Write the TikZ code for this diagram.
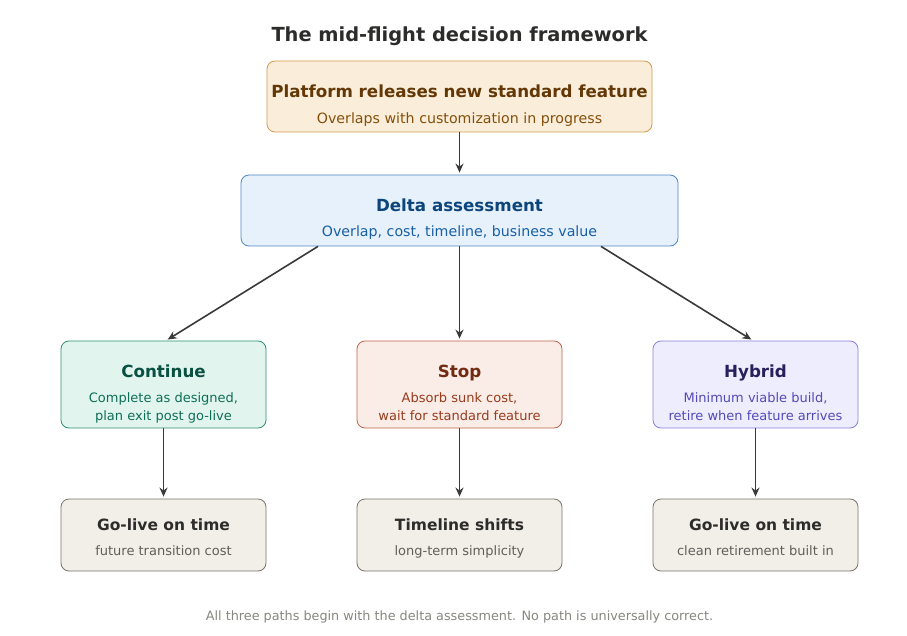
\documentclass[tikz,border=0pt]{standalone}
\usepackage{fontspec}
\setmainfont{DejaVu Sans}
\usetikzlibrary{arrows.meta}
\definecolor{inkdark}{HTML}{2C2C2A}
\definecolor{arrowgrey}{HTML}{3A3A38}
\definecolor{trigfill}{HTML}{FAEEDA}
\definecolor{trigline}{HTML}{D39A4E}
\definecolor{trighead}{HTML}{633806}
\definecolor{trigsub}{HTML}{854F0B}
\definecolor{deltafill}{HTML}{E6F1FB}
\definecolor{deltaline}{HTML}{4F86C6}
\definecolor{deltahead}{HTML}{0C447C}
\definecolor{deltasub}{HTML}{185FA5}
\definecolor{contfill}{HTML}{E1F5EE}
\definecolor{contline}{HTML}{2E9270}
\definecolor{conthead}{HTML}{085041}
\definecolor{contsub}{HTML}{0F6E56}
\definecolor{stopfill}{HTML}{FAECE7}
\definecolor{stopline}{HTML}{C4654A}
\definecolor{stophead}{HTML}{712B13}
\definecolor{stopsub}{HTML}{993C1D}
\definecolor{hybfill}{HTML}{EEEDFE}
\definecolor{hybline}{HTML}{8880E0}
\definecolor{hybhead}{HTML}{26215C}
\definecolor{hybsub}{HTML}{534AB7}
\definecolor{outfill}{HTML}{F1EFE8}
\definecolor{outline}{HTML}{77756E}
\definecolor{outsub}{HTML}{5F5E5A}
\definecolor{notegrey}{HTML}{888780}
\tikzstyle{card} = [rectangle, rounded corners=8pt, line width=0.8pt, inner sep=0pt, minimum width=205pt]
\tikzstyle{headtext} = [anchor=base, font=\fontsize{16.7}{20}\selectfont\bfseries]
\tikzstyle{outhead} = [anchor=base, font=\fontsize{15.5}{18}\selectfont\bfseries]
\tikzstyle{subtext} = [anchor=base, align=center, font=\fontsize{13}{18}\selectfont]
\tikzstyle{widesub} = [anchor=base, font=\fontsize{14.2}{17}\selectfont]
\tikzstyle{arrow} = [line width=1.6pt, draw=arrowgrey, -{Stealth[length=9pt,width=8pt]}, shorten >=2pt]

\begin{document}
\begin{tikzpicture}[x=1pt, y=-1pt]

\useasboundingbox[fill=white] (0,0) rectangle (907,636);

\node (title) [anchor=base, text=inkdark, font=\fontsize{19.4}{23}\selectfont\bfseries] at (459.5,41.5) {The mid-flight decision framework};

\node (trigger) [card, fill=trigfill, draw=trigline, minimum width=385pt, minimum height=71pt] at (459.5,96.5) {};
\node (triggerhead) [headtext, text=trighead] at ([yshift=-1.3pt]trigger.center) {Platform releases new standard feature};
\node (triggersub) [widesub, text=trigsub] at ([yshift=-27.2pt]trigger.center) {Overlaps with customization in progress};

\node (delta) [card, fill=deltafill, draw=deltaline, minimum width=437pt, minimum height=71pt] at (459.5,210.5) {};
\node (deltahead) [headtext, text=deltahead] at ([yshift=-0.9pt]delta.center) {Delta assessment};
\node (deltasub) [widesub, text=deltasub] at ([yshift=-26.2pt]delta.center) {Overlap, cost, timeline, business value};

\node (cont) [card, fill=contfill, draw=contline, minimum height=87pt] at (163.5,384.5) {};
\node (conthead) [headtext, text=conthead] at ([yshift=6.8pt]cont.center) {Continue};
\node (contsub) [subtext, text=contsub] at ([yshift=-35.8pt]cont.center) {Complete as designed,\\plan exit post go-live};

\node (stop) [card, fill=stopfill, draw=stopline, minimum height=87pt] at (459.5,384.5) {};
\node (stophead) [headtext, text=stophead] at ([yshift=6.8pt]stop.center) {Stop};
\node (stopsub) [subtext, text=stopsub] at ([yshift=-35.8pt]stop.center) {Absorb sunk cost,\\wait for standard feature};

\node (hybrid) [card, fill=hybfill, draw=hybline, minimum height=87pt] at (755.5,384.5) {};
\node (hybridhead) [headtext, text=hybhead] at ([yshift=6.8pt]hybrid.center) {Hybrid};
\node (hybridsub) [subtext, text=hybsub] at ([yshift=-35.8pt]hybrid.center) {Minimum viable build,\\retire when feature arrives};

\node (ontime) [card, fill=outfill, draw=outline, minimum height=72pt] at (163.5,535) {};
\node (ontimehead) [outhead, text=inkdark] at ([yshift=4.6pt]ontime.center) {Go-live on time};
\node (ontimesub) [subtext, text=outsub] at ([yshift=-20.2pt]ontime.center) {future transition cost};

\node (shift) [card, fill=outfill, draw=outline, minimum height=72pt] at (459.5,535) {};
\node (shifthead) [outhead, text=inkdark] at ([yshift=4.6pt]shift.center) {Timeline shifts};
\node (shiftsub) [subtext, text=outsub] at ([yshift=-20.2pt]shift.center) {long-term simplicity};

\node (retire) [card, fill=outfill, draw=outline, minimum height=72pt] at (755.5,535) {};
\node (retirehead) [outhead, text=inkdark] at ([yshift=4.6pt]retire.center) {Go-live on time};
\node (retiresub) [subtext, text=outsub] at ([yshift=-20.2pt]retire.center) {clean retirement built in};

\node (note) [anchor=base, text=notegrey, font=\fontsize{12.8}{15}\selectfont] at (459.5,620.2) {All three paths begin with the delta assessment. No path is universally correct.};

\draw [arrow] (trigger) -- (delta);
\draw [arrow] ([xshift=-141.5pt]delta.south) -- ([xshift=2.5pt]cont.north);
\draw [arrow] (delta) -- (stop);
\draw [arrow] ([xshift=141.5pt]delta.south) -- ([xshift=-2.5pt]hybrid.north);
\draw [arrow] (cont) -- (ontime);
\draw [arrow] (stop) -- (shift);
\draw [arrow] (hybrid) -- (retire);

\end{tikzpicture}
\end{document}
